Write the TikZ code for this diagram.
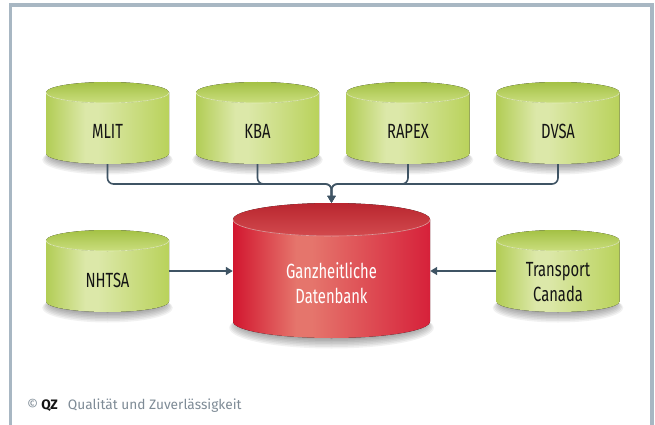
\documentclass[tikz,border=0pt]{standalone}
\usepackage{fontspec}
\setmainfont{Fira Sans}
\newfontfamily\condfont[FakeStretch=0.72]{Fira Sans}
\usetikzlibrary{arrows.meta}
\definecolor{framec}{HTML}{A8B7C3}
\definecolor{gL}{HTML}{B2CD55}
\definecolor{gM}{HTML}{DCE8A9}
\definecolor{gR}{HTML}{B9D25B}
\definecolor{gT1}{HTML}{A4C145}
\definecolor{gT2}{HTML}{CADE7E}
\definecolor{rL}{HTML}{D2162F}
\definecolor{rM}{HTML}{E5756C}
\definecolor{rR}{HTML}{D6213A}
\definecolor{rT1}{HTML}{B9262F}
\definecolor{rT2}{HTML}{D24A4E}
\definecolor{connc}{HTML}{3F5464}
\definecolor{footc}{HTML}{7E8B96}
\definecolor{labc}{HTML}{141414}
\pgfdeclarehorizontalshading{gbody}{100bp}{color(0bp)=(gL); color(25bp)=(gL); color(41bp)=(gM); color(46bp)=(gM); color(75bp)=(gR); color(100bp)=(gR)}
\pgfdeclarehorizontalshading{rbody}{100bp}{color(0bp)=(rL); color(25bp)=(rL); color(41bp)=(rM); color(45bp)=(rM); color(75bp)=(rR); color(100bp)=(rR)}
\tikzset{
  cylbox/.style={shape=rectangle, inner sep=0pt, draw=none},
  lbl/.style={font=\condfont\fontsize{20.5}{25}\selectfont, text=labc, align=center, inner sep=0pt},
  connline/.style={draw=connc, line width=1.6pt, rounded corners=6pt, -{Triangle[length=7pt,width=8pt]}},
}
% #1 name, #2 cx, #3 top, #4 bottom, #5 rx, #6 ry, #7 body shading, #8 colour prefix
\newcommand\mycyl[8]{%
  \pgfmathsetmacro\cya{#3+#6}%
  \pgfmathsetmacro\cyb{#4-#6}%
  \pgfmathsetmacro\kx{0.5523*#5}%
  \pgfmathsetmacro\ky{0.5523*#6}%
  \foreach \k in {0,...,6}{\fill[black,opacity=0.055] (#2,\cyb+1.5+0.8*\k) ellipse [x radius=#5-4+1.3*\k, y radius=#6+0.7*\k];}
  \fill[shading=#7] (#2-#5,\cya) -- (#2-#5,\cyb)
     .. controls (#2-#5,\cyb+\ky) and (#2-\kx,#4) .. (#2,#4)
     .. controls (#2+\kx,#4) and (#2+#5,\cyb+\ky) .. (#2+#5,\cyb)
     -- (#2+#5,\cya) -- cycle;
  \fill[top color=#8T1, bottom color=#8T2] (#2,\cya) ellipse [x radius=#5, y radius=#6];
  \draw[#8T2!55!white, line width=0.6pt] (#2-#5,\cya)
     .. controls (#2-#5,\cya+\ky) and (#2-\kx,\cya+#6) .. (#2,\cya+#6)
     .. controls (#2+\kx,\cya+#6) and (#2+#5,\cya+\ky) .. (#2+#5,\cya);
  \node[cylbox, minimum width=2*#5, minimum height=#4-#3] (#1) at (#2,{(#3+#4)/2}) {};
}
\begin{document}
\begin{tikzpicture}[x=1pt,y=-1pt]
\useasboundingbox (0,0) rectangle (655,425);
\fill[white] (0,0) rectangle (655,425);
\draw[framec, line width=3.5pt] (10.5,426) -- (10.5,5) -- (652,5) -- (652,426);

\mycyl{mlit}{107.5}{82}{164}{61.5}{10.5}{gbody}{g}
\mycyl{kba}{257.5}{82}{164}{61.5}{10.5}{gbody}{g}
\mycyl{rapex}{408}{82}{164}{61.5}{10.5}{gbody}{g}
\mycyl{dvsa}{558}{82}{164}{61.5}{10.5}{gbody}{g}
\mycyl{nhtsa}{107.5}{230}{312}{61.5}{10.5}{gbody}{g}
\mycyl{tc}{558}{230}{312}{61.5}{10.5}{gbody}{g}
\mycyl{db}{331.5}{203}{338}{98.5}{16.5}{rbody}{r}

\node[lbl] at ([yshift=-8pt]mlit.center) {MLIT};
\node[lbl] at ([yshift=-8pt]kba.center) {KBA};
\node[lbl] at ([yshift=-8pt]rapex.center) {RAPEX};
\node[lbl] at ([yshift=-8pt]dvsa.center) {DVSA};
\node[lbl] at ([yshift=-9pt]nhtsa.center) {NHTSA};
\node[lbl] at ([yshift=-11pt]tc.center) {Transport\\Canada};
\node[lbl, text=white] at ([yshift=-13pt]db.center) {Ganzheitliche\\Datenbank};

\coordinate (bus) at (331.5,184);
\draw[connline] (mlit.south) |- (bus) -- (db.north);
\draw[connline] (kba.south) |- (bus) -- (db.north);
\draw[connline] (rapex.south) |- (bus) -- (db.north);
\draw[connline] (dvsa.south) |- (bus) -- (db.north);
\draw[connline] (nhtsa.east) -- (nhtsa.east -| db.west);
\draw[connline] (tc.west) -- (tc.west -| db.east);

\node[anchor=base west, inner sep=0pt, font=\fontsize{13.7}{16}\selectfont] (foot) at (27,409.5)
  {{\color{footc}©}\hspace{3pt}{\bfseries\color{labc}QZ}\hspace{10pt}{\color{footc}Qualität und Zuverlässigkeit}};
\end{tikzpicture}
\end{document}
